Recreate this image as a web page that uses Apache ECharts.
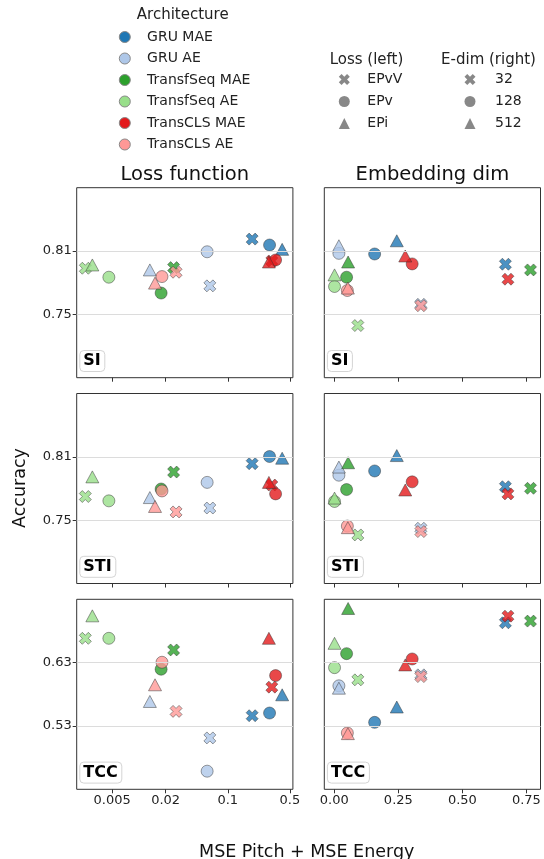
<!DOCTYPE html>
<html>
<head>
<meta charset="utf-8">
<script src="https://cdn.jsdelivr.net/npm/echarts@6/dist/echarts.min.js"></script>
<style>
  html, body { margin: 0; padding: 0; background: #fff; }
  #main { width: 544px; height: 859px; }
</style>
</head>
<body>
<div id="main"></div>
<script>
// ---- data ----
const archs = ['GRU MAE', 'GRU AE', 'TransfSeq MAE', 'TransfSeq AE', 'TransCLS MAE', 'TransCLS AE'];
const archColors = ['#1f77b4', '#aec7e8', '#2ca02c', '#98df8a', '#e31a1c', '#ff9896'];
const lossNames = ['EPvV', 'EPv', 'EPi'];
const edimNames = ['32', '128', '512'];
const metrics = ['SI', 'STI', 'TCC'];

// left column: MSE per arch, loss order [EPvV, EPv, EPi] (null = not run)
const lossMse = [
  [0.188, 0.295, 0.409],
  [0.0629, 0.0586, 0.0133],
  [0.0246, 0.0178, null],
  [0.0025, 0.0046, 0.0030],
  [0.313, 0.345, 0.290],
  [0.0262, 0.0182, 0.0152]
];
const lossSI = [
  [0.8213, 0.8157, 0.8116],
  [0.7770, 0.8093, 0.7921],
  [0.7943, 0.7702, null],
  [0.7937, 0.7852, 0.7968],
  [0.8006, 0.8015, 0.7996],
  [0.7899, 0.7858, 0.7796]
];
const lossSTI = [
  [0.8035, 0.8103, 0.8087],
  [0.7615, 0.7858, 0.7714],
  [0.7956, 0.7795, null],
  [0.7724, 0.7683, 0.7910],
  [0.7833, 0.7749, 0.7858],
  [0.7578, 0.7777, 0.7630]
];
const lossTCC = [
  [0.5462, 0.5504, 0.5792],
  [0.5111, 0.4586, 0.5687],
  [0.6500, 0.6196, null],
  [0.6684, 0.6684, 0.7039],
  [0.5913, 0.6096, 0.6684],
  [0.5530, 0.6306, 0.5950]
];

// right column: MSE per arch, e-dim order [32, 128, 512]
const edimMse = [
  [0.668, 0.1575, 0.244],
  [0.338, 0.018, 0.018],
  [0.766, 0.048, 0.054],
  [0.092, 0.001, 0.001],
  [0.678, 0.304, 0.277],
  [0.338, 0.051, 0.053]
];
const edimSI = [
  [0.7975, 0.8072, 0.8197],
  [0.7595, 0.8078, 0.8150],
  [0.7921, 0.7852, 0.7996],
  [0.7394, 0.7764, 0.7874],
  [0.7833, 0.7978, 0.8053],
  [0.7582, 0.7726, 0.7749]
];
const edimSTI = [
  [0.7817, 0.7966, 0.8112],
  [0.7423, 0.7926, 0.8003],
  [0.7802, 0.7790, 0.8044],
  [0.7360, 0.7677, 0.7709],
  [0.7749, 0.7863, 0.7786],
  [0.7392, 0.7444, 0.7429]
];
const edimTCC = [
  [0.6929, 0.5357, 0.5599],
  [0.6107, 0.5934, 0.5897],
  [0.6956, 0.6442, 0.7155],
  [0.6028, 0.6221, 0.6605],
  [0.7034, 0.6358, 0.6264],
  [0.6080, 0.5190, 0.5179]
];

// axis ticks
const xTicksLeft = [0.005, 0.02, 0.1, 0.5];
const xTicksRight = [0, 0.25, 0.5, 0.75];
const yTicks = [[0.75, 0.81], [0.75, 0.81], [0.53, 0.63]];
const yRange = [[0.69, 0.87], [0.69, 0.87], [0.43, 0.73]];

// ---- layout ----
const FONT = 'DejaVu Sans';
const gridL = [76.7, 324.3];
const gridW = 216.2;
const gridT = [187.7, 393.5, 599.3];
const gridH = 190;

const X_PATH = 'path://M0,2.5L2.5,0L5,2.5L7.5,0L10,2.5L7.5,5L10,7.5L7.5,10L5,7.5L2.5,10L0,7.5L2.5,5Z';
const SYMBOLS = [X_PATH, 'circle', 'triangle'];
const SIZES = [12, 12, [13, 12]];

const accLeft = [lossSI, lossSTI, lossTCC];
const accRight = [edimSI, edimSTI, edimTCC];

const grids = [], xAxes = [], yAxes = [], series = [], titles = [];

for (let r = 0; r < 3; r++) {
  for (let c = 0; c < 2; c++) {
    const p = r * 2 + c;
    grids.push({
      left: gridL[c], top: gridT[r], width: gridW, height: gridH,
      show: true, borderColor: '#333', borderWidth: 1, backgroundColor: '#fff'
    });
    const tick = { length: 4, lineStyle: { color: '#333' } };
    const lbl = { fontSize: 13, color: '#222', fontFamily: FONT, margin: 5 };
    if (c === 0) {
      xAxes.push({
        type: 'log', logBase: 10, gridIndex: p, min: 0.002, max: 0.54,
        axisLine: { show: false }, splitLine: { show: false }, minorTick: { show: false },
        axisTick: Object.assign({ customValues: xTicksLeft }, tick),
        axisLabel: Object.assign({ customValues: xTicksLeft, show: r === 2,
          formatter: v => String(parseFloat(Number(v).toPrecision(3))) }, lbl)
      });
    } else {
      xAxes.push({
        type: 'value', gridIndex: p, min: -0.039, max: 0.805,
        axisLine: { show: false }, splitLine: { show: false },
        axisTick: Object.assign({ customValues: xTicksRight }, tick),
        axisLabel: Object.assign({ customValues: xTicksRight, show: r === 2,
          formatter: v => Number(v).toFixed(2) }, lbl)
      });
    }
    yAxes.push({
      type: 'value', gridIndex: p, min: yRange[r][0], max: yRange[r][1],
      axisLine: { show: false }, splitLine: { show: false },
      axisTick: Object.assign({ customValues: yTicks[r] }, tick),
      axisLabel: Object.assign({ customValues: yTicks[r], show: c === 0,
        formatter: v => Number(v).toFixed(2) }, lbl)
    });

    // light horizontal gridlines
    series.push({
      type: 'scatter', xAxisIndex: p, yAxisIndex: p, data: [], silent: true, z: 1,
      markLine: {
        silent: true, symbol: ['none', 'none'], label: { show: false },
        lineStyle: { color: '#dcdcdc', type: 'solid', width: 1 },
        emphasis: { disabled: true },
        data: yTicks[r].map(v => ({ yAxis: v }))
      }
    });

    const xs = c === 0 ? lossMse : edimMse;
    const ys = c === 0 ? accLeft[r] : accRight[r];
    archs.forEach((name, a) => {
      const data = [];
      for (let k = 0; k < 3; k++) {
        if (xs[a][k] == null || ys[a][k] == null) continue;
        data.push({ value: [xs[a][k], ys[a][k]], symbol: SYMBOLS[k], symbolSize: SIZES[k] });
      }
      series.push({
        type: 'scatter', name, xAxisIndex: p, yAxisIndex: p, data, z: 3,
        symbol: 'circle',
        itemStyle: { color: archColors[a], opacity: 0.8, borderColor: '#333', borderWidth: 0.6 }
      });
    });

    titles.push({
      text: metrics[r], left: gridL[c] + 2.6, bottom: 859 - (gridT[r] + gridH - 5.7),
      padding: [3, 4], borderColor: '#d4d4d4', borderWidth: 1, borderRadius: 4,
      backgroundColor: '#fff',
      textStyle: { fontSize: 16, fontWeight: 'bold', color: '#000', fontFamily: FONT }
    });
  }
}

// gray shape-only series for the marker legends
lossNames.forEach((name, k) => series.push({
  type: 'scatter', name, data: [], xAxisIndex: 0, yAxisIndex: 0,
  symbol: SYMBOLS[k], itemStyle: { color: '#888' }
}));
edimNames.forEach((name, k) => series.push({
  type: 'scatter', name, data: [], xAxisIndex: 0, yAxisIndex: 0,
  symbol: SYMBOLS[k], itemStyle: { color: '#888' }
}));

const legendText = { fontSize: 14, color: '#222', fontFamily: FONT, lineHeight: 16 };

const option = {
  animation: false,
  backgroundColor: '#fff',
  grid: grids,
  xAxis: xAxes,
  yAxis: yAxes,
  title: titles,
  legend: [
    {
      data: archs, orient: 'vertical', left: 118.8, top: 29, itemGap: 5.5, padding: 0,
      itemWidth: 11, itemHeight: 11, icon: 'circle', selectedMode: false,
      itemStyle: { opacity: 1, borderColor: '#888', borderWidth: 1 },
      textStyle: Object.assign({ padding: [0, 0, 0, 11.8] }, legendText)
    },
    {
      data: lossNames, orient: 'vertical', left: 338.8, top: 71.5, itemGap: 6, padding: 0,
      itemWidth: 11, itemHeight: 11, selectedMode: false,
      itemStyle: { opacity: 1, borderWidth: 0 },
      textStyle: Object.assign({ padding: [0, 0, 0, 12.5] }, legendText)
    },
    {
      data: edimNames, orient: 'vertical', left: 464.5, top: 71.5, itemGap: 6, padding: 0,
      itemWidth: 11, itemHeight: 11, selectedMode: false,
      itemStyle: { opacity: 1, borderWidth: 0 },
      textStyle: Object.assign({ padding: [0, 0, 0, 14.5] }, legendText)
    }
  ],
  graphic: [
    { type: 'text', x: 182.7, y: 15, style: { text: 'Architecture', font: '15px "DejaVu Sans"', fill: '#222', textAlign: 'center', textVerticalAlign: 'middle' } },
    { type: 'text', x: 366.5, y: 60, style: { text: 'Loss (left)', font: '15px "DejaVu Sans"', fill: '#222', textAlign: 'center', textVerticalAlign: 'middle' } },
    { type: 'text', x: 488.5, y: 60, style: { text: 'E-dim (right)', font: '15px "DejaVu Sans"', fill: '#222', textAlign: 'center', textVerticalAlign: 'middle' } },
    { type: 'text', x: gridL[0] + gridW / 2, y: 175, style: { text: 'Loss function', font: '19.5px "DejaVu Sans"', fill: '#111', textAlign: 'center', textVerticalAlign: 'middle' } },
    { type: 'text', x: gridL[1] + gridW / 2, y: 175, style: { text: 'Embedding dim', font: '19.5px "DejaVu Sans"', fill: '#111', textAlign: 'center', textVerticalAlign: 'middle' } },
    { type: 'text', x: 20, y: 488, rotation: Math.PI / 2, style: { text: 'Accuracy', font: '17.5px "DejaVu Sans"', fill: '#111', textAlign: 'center', textVerticalAlign: 'middle' } },
    { type: 'text', x: 306.7, y: 852, style: { text: 'MSE Pitch + MSE Energy', font: '17.5px "DejaVu Sans"', fill: '#111', textAlign: 'center', textVerticalAlign: 'middle' } }
  ],
  series
};

const chart = echarts.init(document.getElementById('main'), null, { renderer: 'canvas' });
chart.setOption(option);
</script>
</body>
</html>
